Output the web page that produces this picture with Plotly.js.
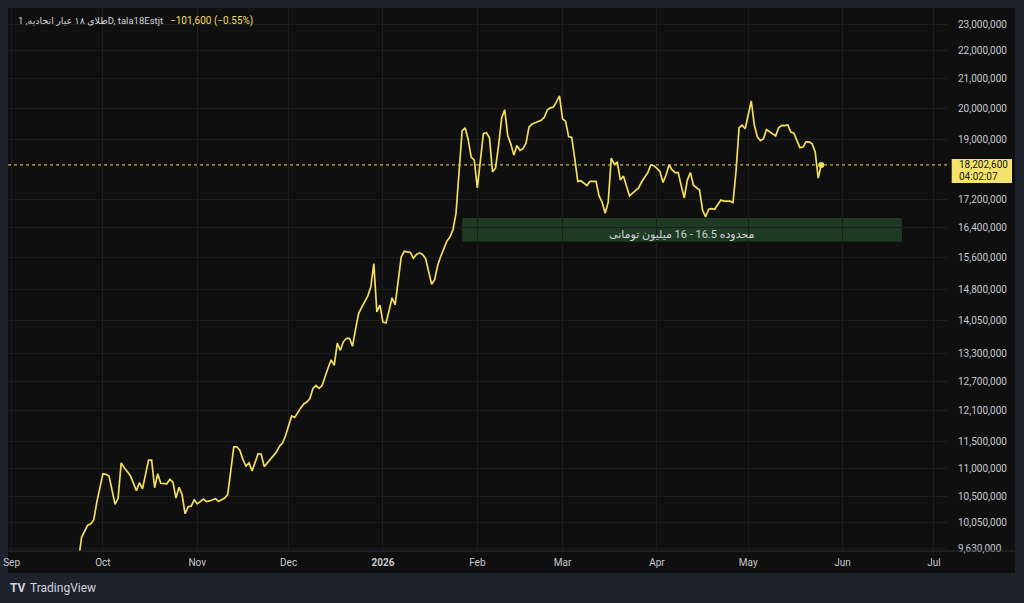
<!DOCTYPE html>
<html>
<head>
<meta charset="utf-8">
<script src="https://cdn.plot.ly/plotly-3.0.1.min.js"></script>
<style>
html,body{margin:0;padding:0;background:#1e222d;}
#chart{width:1024px;height:603px;}
</style>
</head>
<body>
<div id="chart"></div>
<script>
// ---- data ----
const dates = [
'2025-09-23','2025-09-24','2025-09-26','2025-09-27','2025-09-28','2025-09-29',
'2025-10-01','2025-10-02','2025-10-03','2025-10-04','2025-10-05','2025-10-06','2025-10-07','2025-10-08','2025-10-09','2025-10-10',
'2025-10-12','2025-10-13','2025-10-14','2025-10-16','2025-10-17','2025-10-18','2025-10-19','2025-10-20',
'2025-10-22','2025-10-23','2025-10-24','2025-10-25','2025-10-26','2025-10-27','2025-10-28','2025-10-29','2025-10-30','2025-10-31',
'2025-11-01','2025-11-03','2025-11-04','2025-11-05','2025-11-07','2025-11-08','2025-11-10','2025-11-11','2025-11-12','2025-11-13',
'2025-11-14','2025-11-15','2025-11-16','2025-11-17','2025-11-18','2025-11-19','2025-11-21','2025-11-22','2025-11-23','2025-11-25',
'2025-11-26','2025-11-27','2025-11-28','2025-11-29','2025-11-30',
'2025-12-01','2025-12-02','2025-12-03','2025-12-04','2025-12-05','2025-12-06','2025-12-07','2025-12-08','2025-12-09','2025-12-10',
'2025-12-11','2025-12-12','2025-12-13','2025-12-14','2025-12-15','2025-12-16','2025-12-17','2025-12-18','2025-12-19','2025-12-20',
'2025-12-21','2025-12-22','2025-12-23','2025-12-24','2025-12-25','2025-12-26','2025-12-27','2025-12-28','2025-12-29','2025-12-30','2025-12-31',
'2026-01-01','2026-01-02','2026-01-03','2026-01-04','2026-01-05','2026-01-06','2026-01-07','2026-01-08','2026-01-09','2026-01-10',
'2026-01-11','2026-01-12','2026-01-13','2026-01-14','2026-01-15','2026-01-16','2026-01-17','2026-01-18','2026-01-19','2026-01-20',
'2026-01-21','2026-01-22','2026-01-23','2026-01-24','2026-01-25','2026-01-26','2026-01-27','2026-01-28','2026-01-29','2026-01-30','2026-01-31',
'2026-02-01','2026-02-02','2026-02-03','2026-02-04','2026-02-05','2026-02-06','2026-02-07','2026-02-08','2026-02-09','2026-02-10',
'2026-02-11','2026-02-12','2026-02-13','2026-02-14','2026-02-15','2026-02-16','2026-02-17','2026-02-18','2026-02-19','2026-02-20',
'2026-02-21','2026-02-22','2026-02-23','2026-02-24','2026-02-25','2026-02-26','2026-02-27','2026-02-28',
'2026-03-01','2026-03-02','2026-03-03','2026-03-04','2026-03-05','2026-03-06','2026-03-07','2026-03-08','2026-03-09','2026-03-10',
'2026-03-11','2026-03-12','2026-03-13','2026-03-14','2026-03-15','2026-03-16','2026-03-17','2026-03-18','2026-03-19','2026-03-20',
'2026-03-21','2026-03-22','2026-03-23','2026-03-24','2026-03-25','2026-03-26','2026-03-27','2026-03-28','2026-03-29','2026-03-30','2026-03-31',
'2026-04-01','2026-04-02','2026-04-03','2026-04-04','2026-04-05','2026-04-06','2026-04-07','2026-04-08','2026-04-09','2026-04-10',
'2026-04-11','2026-04-12','2026-04-13','2026-04-14','2026-04-15','2026-04-16','2026-04-17','2026-04-18','2026-04-19','2026-04-20',
'2026-04-21','2026-04-22','2026-04-23','2026-04-24','2026-04-25','2026-04-26','2026-04-27','2026-04-28','2026-04-29','2026-04-30',
'2026-05-01','2026-05-02','2026-05-03','2026-05-04','2026-05-05','2026-05-06','2026-05-07','2026-05-08','2026-05-09','2026-05-10',
'2026-05-11','2026-05-12','2026-05-13','2026-05-14','2026-05-15','2026-05-16','2026-05-17','2026-05-18','2026-05-19','2026-05-20',
'2026-05-21','2026-05-22','2026-05-23','2026-05-24','2026-05-25'
];
const prices = [
9450000,9810000,10010000,10030000,10100000,10400000,
10900000,10890000,10860000,10620000,10360000,10470000,11100000,11010000,10940000,10870000,
10600000,10740000,10630000,11150000,11150000,10650000,10900000,10730000,
10720000,10800000,10750000,10470000,10660000,10530000,10200000,10320000,10330000,10440000,
10370000,10450000,10410000,10420000,10460000,10410000,10470000,10530000,10950000,11400000,
11400000,11330000,11160000,11040000,11100000,10950000,11270000,11260000,11030000,11170000,
11250000,11300000,11410000,11470000,11610000,
11800000,12000000,11970000,12080000,12160000,12240000,12280000,12350000,12560000,12620000,
12560000,12620000,12830000,13000000,13170000,13050000,13540000,13380000,13570000,13650000,
13650000,13470000,13860000,14220000,14370000,14500000,14640000,14860000,15450000,14260000,14420000,
14020000,14000000,14290000,14600000,14430000,15010000,15620000,15770000,15760000,15740000,
15590000,15690000,15730000,15690000,15580000,15230000,14930000,15050000,15410000,15640000,
15820000,16040000,16150000,16340000,16800000,17890000,19260000,19360000,18980000,18440000,18350000,
17520000,18350000,19170000,19200000,19040000,17990000,18110000,18810000,19680000,19950000,
19100000,18850000,18500000,18800000,18650000,18700000,18870000,19390000,19480000,19520000,
19550000,19600000,19700000,19940000,20010000,20040000,20210000,20410000,
19650000,19570000,19080000,19050000,18400000,17710000,17730000,17650000,17590000,17710000,
17700000,17710000,17290000,17110000,16800000,17110000,18410000,18220000,18280000,17750000,
17870000,17580000,17290000,17370000,17450000,17520000,17700000,17840000,17970000,18200000,18180000,
18100000,18000000,17680000,17900000,18200000,18050000,17970000,17970000,17580000,17230000,
17750000,17970000,17600000,17520000,17460000,16890000,16700000,16910000,16930000,16910000,
17060000,17170000,17140000,17140000,17140000,17100000,18020000,19360000,19440000,19330000,
19780000,20240000,19450000,19070000,18950000,19010000,19300000,19230000,19140000,19100000,
19360000,19440000,19430000,19450000,19220000,19190000,18950000,18730000,18750000,18910000,
18910000,18850000,18600000,17810000,18202600
];

const priceTicks = [23000000,22000000,21000000,20000000,19000000,17200000,16400000,15600000,14800000,
  14050000,13300000,12700000,12100000,11500000,11000000,10500000,10050000,9630000];
const monthTicks = ['2025-09-01','2025-10-01','2025-11-01','2025-12-01','2026-01-01','2026-02-01',
  '2026-03-01','2026-04-01','2026-05-01','2026-06-01','2026-07-01'];
const monthLabels = ['Sep','Oct','Nov','Dec','<b>2026</b>','Feb','Mar','Apr','May','Jun','Jul'];

const zoneLow = 16020000, zoneHigh = 16670000;
const zoneStart = '2026-01-27', zoneEnd = '2026-06-20 12:00';
const zoneText = 'محدوده 16.5 - 16 میلیون تومانی';
const titleText = 'طلای ۱۸ عیار اتحادیه, 1D, tala18Estjt';
const changeText = '−101,600 (−0.55%)';
const lastTime = '04:02:07';

// ---- drawing ----
const FONT = "Roboto, 'DejaVu Sans', sans-serif";
const YEL = '#f2de5c';
const lastDate = dates[dates.length - 1];
const lastPrice = prices[prices.length - 1];
const fmt = v => v.toLocaleString('en-US');

const traces = [
  {x: dates, y: prices, type: 'scatter', mode: 'lines',
   line: {color: YEL, width: 1.7}, hoverinfo: 'skip'},
  {x: [lastDate], y: [lastPrice], type: 'scatter', mode: 'markers',
   marker: {color: YEL, size: 6}, hoverinfo: 'skip'}
];

const layout = {
  width: 1024, height: 603,
  paper_bgcolor: '#1e222d', plot_bgcolor: 'rgba(0,0,0,0)',
  margin: {l: 8, r: 76, t: 8, b: 52},
  showlegend: false,
  font: {family: FONT, color: '#c8cad0', size: 10},
  xaxis: {
    type: 'date', range: ['2025-08-30 19:40', '2026-07-05 15:07'],
    tickvals: monthTicks, ticktext: monthLabels,
    showgrid: true, gridcolor: '#1d1d1f', gridwidth: 1,
    zeroline: false, showline: false, ticks: '',
    tickfont: {family: FONT, size: 10, color: '#c8cad0'},
    ticklabelstandoff: 4, fixedrange: true
  },
  yaxis: {
    type: 'log', side: 'right', range: [6.981761, 7.373264],
    tickvals: priceTicks, ticktext: priceTicks.map(fmt),
    showgrid: true, gridcolor: '#1d1d1f', gridwidth: 1,
    zeroline: false, showline: false, ticks: '',
    tickfont: {family: FONT, size: 10, color: '#c8cad0'},
    ticklabelstandoff: 9, fixedrange: true
  },
  shapes: [
    {type: 'rect', xref: 'paper', yref: 'paper', x0: 0, x1: 1.07128, y0: -0.04052, y1: 1,
     fillcolor: '#0f0f0f', line: {width: 0}, layer: 'below'},
    {type: 'line', xref: 'paper', yref: 'paper', x0: 0, x1: 1.07128, y0: 0, y1: 0,
     line: {color: '#2a2e39', width: 1}},
    {type: 'rect', xref: 'x', yref: 'y', x0: zoneStart, x1: zoneEnd, y0: zoneLow, y1: zoneHigh,
     fillcolor: '#1f3a23', line: {width: 0}, layer: 'below'},
    {type: 'line', xref: 'paper', yref: 'y', x0: 0, x1: 1, y0: lastPrice, y1: lastPrice,
     line: {color: YEL, width: 1, dash: 'dot'}},
    {type: 'rect', xref: 'paper', yref: 'paper', x0: 1.00394, x1: 1.0681, y0: 0.6777, y1: 0.7219,
     fillcolor: '#f5e36b', line: {width: 0}}
  ],
  annotations: [
    {xref: 'paper', yref: 'paper', x: 0.717, y: 0.5833, text: zoneText, showarrow: false,
     xanchor: 'center', yanchor: 'middle', font: {family: FONT, size: 11, color: '#d1d4dc'}},
    {xref: 'paper', yref: 'paper', x: 0.00851, y: 0.97606, text: titleText, showarrow: false,
     xanchor: 'left', yanchor: 'middle', font: {family: FONT, size: 9.5, color: '#d1d4dc'}},
    {xref: 'paper', yref: 'paper', x: 0.1702, y: 0.97606, text: changeText, showarrow: false,
     xanchor: 'left', yanchor: 'middle', font: {family: FONT, size: 10, color: YEL}},
    {xref: 'paper', yref: 'paper', x: 1.00957, y: 0.7109, text: fmt(lastPrice), showarrow: false,
     xanchor: 'left', yanchor: 'middle', font: {family: FONT, size: 10, color: '#131722'}},
    {xref: 'paper', yref: 'paper', x: 1.00957, y: 0.6906, text: lastTime, showarrow: false,
     xanchor: 'left', yanchor: 'middle', font: {family: FONT, size: 10, color: '#131722'}},
    {xref: 'paper', yref: 'paper', x: 0.0, y: -0.0681, text: '<b>TV</b>', showarrow: false,
     xanchor: 'left', yanchor: 'middle', font: {family: FONT, size: 12, color: '#d1d4dc'}},
    {xref: 'paper', yref: 'paper', x: 0.0213, y: -0.0681, text: 'TradingView', showarrow: false,
     xanchor: 'left', yanchor: 'middle', font: {family: FONT, size: 12, color: '#d1d4dc'}}
  ]
};

Plotly.newPlot('chart', traces, layout, {staticPlot: true, displayModeBar: false});
</script>
</body>
</html>
